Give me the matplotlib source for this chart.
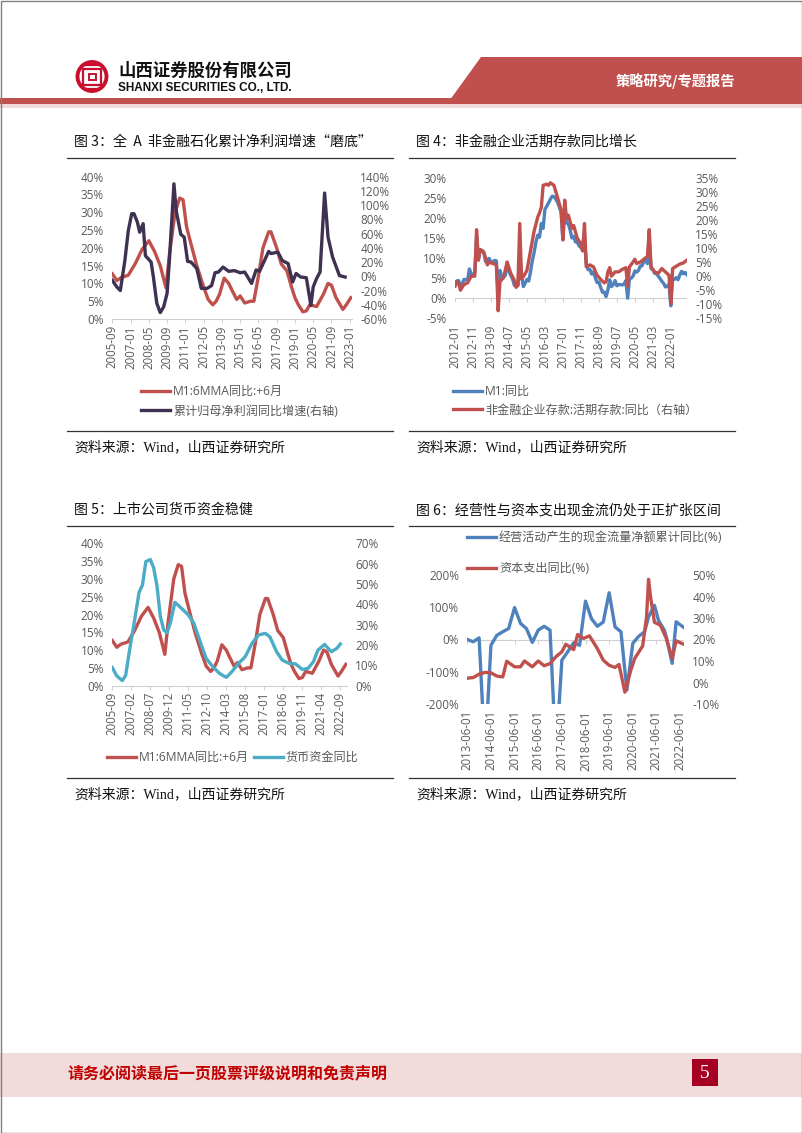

import matplotlib
matplotlib.use('Agg')
import matplotlib.pyplot as plt
from matplotlib.patches import Rectangle, Polygon, Circle

CN = ['Noto Sans CJK SC', 'DejaVu Sans']
NUM = ['Open Sans', 'Noto Sans CJK SC']
SRC = ['Liberation Serif', 'Noto Sans CJK SC']
plt.rcParams['font.family'] = NUM

GREY = '#595959'
RED = '#c0504d'
BLUE = '#4f81bd'
DARK = '#3f3151'
TEAL = '#4bacc6'

# 图3、图5共用 M1:6MMA同比:+6月 (横轴为自2005-09起的月数)
m1_month = [0, 4, 8, 14, 20, 26, 32, 37, 42, 47, 50, 55, 59, 62, 65, 69, 74, 80, 84, 88, 91, 94, 98,
            102, 105, 109, 112, 116, 121, 124, 128, 132, 137, 139, 144, 148, 153, 157, 160, 163,
            167, 170, 173, 179, 185, 189, 192, 196, 202, 205, 209]
m1_6mma = [12.7, 10.8, 11.7, 12.3, 15.5, 19.5, 22, 19, 15, 8.8, 18, 30, 34, 33.5, 26, 21, 15, 9, 5.5, 4, 5, 7, 11.5,
           10, 8, 5.5, 6.5, 4.5, 5, 5, 12, 20, 24.5, 24.5, 20, 15.5, 13.5, 9, 6, 4,
           2, 2.3, 4, 3.5, 7, 10, 9.5, 6, 2.7, 4, 6]

# 图3 累计归母净利润同比增速
profit_month = [0, 4, 7, 11, 14, 17, 19, 22, 24, 27, 29, 34, 36, 39, 42, 45, 48, 50, 54, 56, 60, 63, 66, 69,
                74, 78, 83, 87, 90, 93, 97, 102, 107, 112, 116, 122, 126, 129, 137, 139, 145, 149, 154,
                158, 161, 165, 170, 174, 176, 179, 182, 186, 189, 193, 199, 204]
profit = [-5.6, -15, -20, 22, 64, 88, 88, 76, 62, 74, 29, 20, -1, -38, -51, -43, -24, 22, 130, 92, 59, 55, 21, 20,
          11, -17, -17, -13, 5, 6, 13, 7, 8, 5, 6, -10, 9, 7, 35, 32, 34, 22, 18,
          -8, 4, -1, -2, -41, -15, -3, 6, 117, 55, 27, 1, -1]
labels3 = ['2005-09', '2007-01', '2008-05', '2009-09', '2011-01', '2012-05', '2013-09', '2015-01',
           '2016-05', '2017-09', '2019-01', '2020-05', '2021-09', '2023-01']

# 图4 M1同比 (2012-01起逐月)
m1_yoy = [3.1, 4.3, 4.4, 3.1, 3.5, 4.7, 4.6, 4.5, 7.3, 6.1, 5.5, 6.5,
          15.3, 9.5, 11.9, 11.9, 11.3, 9.1, 9.7, 9.9, 8.9, 8.9, 9.4, 9.3,
          1.2, 6.9, 5.4, 5.3, 5.7, 8.9, 6.7, 5.7, 4.8, 3.2, 3.2, 3.2,
          10.6, 5.6, 2.9, 3.7, 4.7, 4.3, 6.6, 9.3, 11.4, 14.0, 15.7, 15.2,
          18.6, 17.4, 22.1, 22.9, 23.7, 24.6, 25.4, 25.3, 24.7, 23.9, 22.7, 21.4,
          14.5, 21.4, 18.8, 18.5, 17.0, 15.0, 15.4, 14.0, 14.0, 13.0, 12.7, 11.8,
          15.0, 8.5, 7.1, 7.2, 6.0, 6.6, 5.1, 3.9, 4.0, 2.7, 1.5, 1.5,
          0.4, 2.0, 4.6, 2.9, 3.4, 4.4, 3.1, 3.4, 3.4, 3.3, 3.5, 4.4,
          0.0, 4.8, 5.0, 5.5, 6.8, 6.5, 6.9, 8.0, 8.1, 9.1, 10.0, 8.6,
          14.7, 7.4, 7.1, 6.2, 6.1, 5.5, 4.9, 4.2, 3.7, 2.8, 3.0, 3.5,
          -1.9, 4.7, 4.7, 5.1, 4.6, 5.8, 6.7, 6.1, 6.4, 5.8]
demand_month = [0, 1, 2, 3, 5, 7, 9, 11, 12, 13, 14, 16, 18, 19, 21, 23, 24, 25, 27, 29, 31, 33, 34, 35, 36, 37, 38,
                40, 42, 44, 46, 47, 48, 49, 51, 52, 53, 55, 57, 59, 60, 61, 62, 63, 65, 66, 68, 70, 71, 72, 73,
                75, 77, 79, 81, 83, 84, 85, 86, 87, 89, 91, 93, 95, 96, 97, 99, 100, 101, 103, 105, 107, 108, 109,
                111, 113, 115, 117, 119, 120, 121, 123, 125, 127, 129]
demand = [-3.5, -2, -2.4, -5, -3, -2.4, 0, 0, 16.5, 5.7, 9.5, 8.6, 4, 5, 4.5, 4, -12.3, -2, -0.5, 5, 1, -1.5, -4, -3.2, 18.7, -1, -0.2,
          2, 9, 16, 21, 22.5, 24.5, 32.3, 32.7, 32.3, 33.2, 32.3, 28, 23.5, 13, 27, 20.5, 21.7, 17, 18, 13.4, 11.6, 9, 18.7, 3.3,
          4, 3.3, 0.3, -1.2, -2.4, -2, 1.5, 3, 0, 1.5, 1.5, 2.4, 3, -3.5, 3.3, 5, 6, 4.5, 5, 6, 7, 16.5, 3.3,
          1.5, 1, 2.7, 1.5, 0.3, -9.7, 2.7, 3.5, 4.3, 4.7, 5.7]
labels4 = ['2012-01', '2012-11', '2013-09', '2014-07', '2015-05', '2016-03', '2017-01', '2017-11',
           '2018-09', '2019-07', '2020-05', '2021-03', '2022-01']

# 图5 货币资金同比
cash_month = [0, 4, 9, 12, 15, 19, 24, 27, 30, 34, 37, 40, 43, 46, 49, 52, 56, 62, 68, 73, 79, 84, 90, 96, 102,
              107, 113, 119, 125, 131, 137, 141, 147, 152, 158, 164, 170, 175, 180, 184, 190, 193, 196, 201, 204]
cash = [8.9, 4.8, 2.5, 5.2, 16, 29, 46, 49.5, 61, 62, 58, 49, 34, 27.4, 26, 31, 41, 38, 34.8, 30.7, 21, 13.4, 9.3, 6, 4.1,
        6.9, 11, 14.3, 20.8, 25, 25.7, 24, 16.7, 12.6, 11, 10.7, 8, 8.5, 11.8, 17.5, 20.3, 18.4, 16.7, 18.4, 20.5]
labels5 = ['2005-09', '2007-02', '2008-07', '2009-12', '2011-05', '2012-10', '2014-03', '2015-08',
           '2017-01', '2018-06', '2019-11', '2021-04', '2022-09']

# 图6 经营现金流(左轴)、资本支出(右轴)，横轴为自2013-06起的月数
ocf_month = [0, 3, 6, 9, 12, 15, 18, 21, 24, 27, 30, 33, 36, 39, 42, 45, 48, 51, 54, 57, 60, 63, 66, 69, 72, 75, 78,
             81, 84, 87, 90, 92, 95, 97, 100, 101, 104, 106, 110]
ocf = [0, -7, 5, -360, -18, 13, 24, 34, 99, 50, 34, -9, 29, 41, 29, -360, -64, -38, -10, -18, 119, 65, 41, 54, 145, 39, 24,
       -157, -12, 10, 24, 70, 106, 60, 29, 8, -74, 55, 37]
capex_month = [0, 3, 6, 9, 12, 15, 18, 20, 24, 27, 29, 33, 36, 39, 42, 45, 48, 50, 54, 56, 59, 62, 66, 69, 72, 75, 77,
               80, 83, 85, 89, 91, 92, 93, 95, 98, 101, 104, 106, 110]
capex = [2, 2.3, 3.9, 4.7, 4.5, 3, 2.6, 9.9, 7.3, 7.3, 10, 7.3, 10, 7.8, 8.8, 12, 14.3, 17.8, 15.3, 22.3, 20.5, 21.7, 15.8, 10.4, 8, 7, 8.4,
         -4.5, 5.7, 11.2, 17, 30.5, 48, 40, 28, 26.7, 20.5, 11.2, 19.4, 17.7]
labels6 = ['2013-06-01', '2014-06-01', '2015-06-01', '2016-06-01', '2017-06-01', '2018-06-01', '2019-06-01',
           '2020-06-01', '2021-06-01', '2022-06-01']

W, H = 802, 1133
AXIS = '#d0d0d0'
LW = 2.4
fig = plt.figure(figsize=(W / 100, H / 100), dpi=100)

# 页面底图，坐标就用像素
page = fig.add_axes([0, 0, 1, 1], zorder=0)
page.set_xlim(0, W)
page.set_ylim(H, 0)
page.axis('off')


def make_axes(left, top, right, bottom):
    return fig.add_axes([left / W, 1 - bottom / H, (right - left) / W, (bottom - top) / H], zorder=2)


def draw_chart(box, xlim, ticks, labels, ylim, ystep, ylim2, ystep2, zero=False):
    ax = make_axes(*box)
    ax2 = ax.twinx()
    ax.set_xlim(*xlim)
    ax.set_ylim(*ylim)
    ax2.set_ylim(*ylim2)
    ax.set_yticks(list(range(ylim[0], ylim[1] + 1, ystep)))
    ax2.set_yticks(list(range(ylim2[0], ylim2[1] + 1, ystep2)))
    ax.set_yticklabels(['%d%%' % v for v in ax.get_yticks()])
    ax2.set_yticklabels(['%d%%' % v for v in ax2.get_yticks()])
    ax.set_xticks(ticks)
    ax.set_xticklabels(labels, rotation=90)
    for a in (ax, ax2):
        for s in a.spines.values():
            s.set_visible(False)
        a.tick_params(axis='y', length=0, labelsize=8.5, labelcolor=GREY, pad=6)
    if zero:
        # 横轴线在0处，标签留在图底部
        ax.tick_params(axis='x', length=0, labelsize=8.3, labelcolor=GREY, pad=4.5)
        ax.axhline(0, color=AXIS, lw=0.8, zorder=1)
        ax.plot(ticks, [0] * len(ticks), ls='none', marker=3, ms=3, mew=0.7, color=AXIS, zorder=1)
    else:
        ax.tick_params(axis='x', length=3, width=0.7, color=AXIS, labelsize=8.3, labelcolor=GREY, pad=1.5)
        ax.spines['bottom'].set_visible(True)
        ax.spines['bottom'].set_color(AXIS)
    return ax, ax2


def add_legend(lines, x, y, ncol=1, spacing=0.45, columnspacing=0.4):
    fig.legend(lines, [l.get_label() for l in lines], loc='upper left', bbox_to_anchor=(x / W, 1 - y / H),
               ncol=ncol, frameon=False, labelcolor=GREY, handlelength=2.4, handletextpad=0.25,
               labelspacing=spacing, columnspacing=columnspacing, borderpad=0, borderaxespad=0,
               prop={'family': NUM, 'size': 8.7})


# 图3
ax, ax2 = draw_chart((112.3, 176.7, 352, 319), (0, 210), list(range(0, 209, 16)), labels3, (0, 40), 5, (-60, 140), 20)
l1, = ax.plot(m1_month, m1_6mma, color=RED, lw=LW, label='M1:6MMA同比:+6月')
l2, = ax2.plot(profit_month, profit, color=DARK, lw=LW, label='累计归母净利润同比增速(右轴)')
add_legend([l1, l2], 141, 385, spacing=0.55)

# 图4
ax, ax2 = draw_chart((455, 177.7, 687, 318.3), (0, 129), list(range(0, 121, 10)), labels4, (-5, 30), 5, (-15, 35), 5, zero=True)
l1, = ax.plot(range(len(m1_yoy)), m1_yoy, color=BLUE, lw=LW, label='M1:同比')
l2, = ax2.plot(demand_month, demand, color=RED, lw=LW, label='非金融企业存款:活期存款:同比（右轴）')
add_legend([l1, l2], 453, 385, spacing=0.45)

# 图5
ax, ax2 = draw_chart((112.3, 543.3, 347, 685.7), (0, 210), list(range(0, 205, 17)), labels5, (0, 40), 5, (0, 70), 10)
l1, = ax.plot(m1_month, m1_6mma, color=RED, lw=LW, label='M1:6MMA同比:+6月')
l2, = ax2.plot(cash_month, cash, color=TEAL, lw=LW, label='货币资金同比')
add_legend([l1, l2], 107, 751, ncol=2)

# 图6
ax, ax2 = draw_chart((467.3, 575, 684, 704), (0, 110), list(range(0, 109, 12)), labels6, (-200, 200), 100, (-10, 50), 10, zero=True)
l1, = ax.plot(ocf_month, ocf, color=BLUE, lw=LW, label='经营活动产生的现金流量净额累计同比(%)')
l2, = ax2.plot(capex_month, capex, color=RED, lw=LW, label='资本支出同比(%)')
add_legend([l1, l2], 467, 531, spacing=1.5)

# 标题、分隔线、资料来源
titles = ['图 3：全  A  非金融石化累计净利润增速“磨底”', '图 4：非金融企业活期存款同比增长',
          '图 5：上市公司货币资金稳健', '图 6：经营性与资本支出现金流仍处于正扩张区间']
for i, (x0, x1, y_title, y_top, y_bot) in enumerate([(67, 393, 142, 158, 431), (409, 735, 142, 158, 431),
                                                    (67, 393, 510, 526, 778), (409, 735, 510, 526, 778)]):
    page.text(x0 + 7, y_title, titles[i], family=CN, fontsize=10.1, color='#111111', va='center')
    page.plot([x0, x1], [y_top, y_top], color='#333333', lw=0.9)
    page.plot([x0, x1], [y_bot, y_bot], color='#333333', lw=0.9)
    page.text(x0 + 7, y_bot + 16, '资料来源：Wind，山西证券研究所', family=SRC, fontsize=10, color='#111111', va='center')

# 页眉
page.add_patch(Rectangle((0, 98), W, 6, color=RED, lw=0))
page.add_patch(Rectangle((0, 104), W, 4, color='#f2dcdb', lw=0))
page.add_patch(Polygon([(481, 57), (W, 57), (W, 104), (447, 104)], closed=True, color=RED, lw=0))
page.text(675.5, 81, '策略研究/专题报告', family=CN, fontsize=10.3, weight='bold', color='white', ha='center', va='center')
# 标志
page.add_patch(Circle((92, 76.5), 14.5, fill=False, ec='#c8102e', lw=2.8))
page.add_patch(Rectangle((83, 69), 18, 16, fill=False, ec='#c8102e', lw=1.6))
page.add_patch(Rectangle((88.5, 74), 7, 6, fill=False, ec='#c8102e', lw=1.4))
page.plot([84, 100], [65, 65], color='#c8102e', lw=1.6)
page.plot([86, 98], [89, 89], color='#c8102e', lw=1.6)
page.text(118, 71, '山西证券股份有限公司', family=CN, fontsize=12.5, weight='bold', color='#111111', va='center')
page.text(118, 88, 'SHANXI SECURITIES CO., LTD.', family='Liberation Sans', fontsize=8.5, weight='bold', color='#111111', va='center')

# 页脚
page.add_patch(Rectangle((0, 1053), W, 44, color='#f2dcdb', lw=0))
page.add_patch(Rectangle((691.5, 1059), 26.5, 27, color='#a50021', lw=0))
page.text(705, 1073, '5', family='Liberation Serif', fontsize=14, color='white', ha='center', va='center')
page.text(67.5, 1073, '请务必阅读最后一页股票评级说明和免责声明', family=CN, fontsize=11.5, weight='bold', color='#c00000', va='center')

# 页面边框
page.add_patch(Rectangle((0.5, 0.5), W - 1, H - 1, fill=False, ec='#808080', lw=1))

fig.savefig('out.png', dpi=100)
